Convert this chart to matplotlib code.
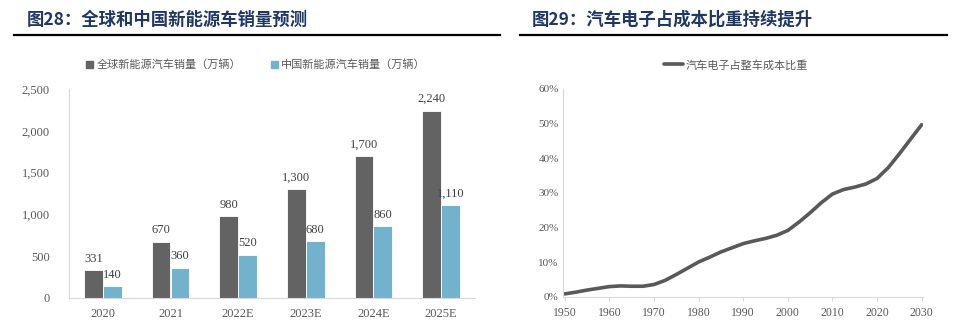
import matplotlib
matplotlib.use("Agg")
import matplotlib.pyplot as plt
from matplotlib.patches import Patch
from matplotlib.lines import Line2D
from matplotlib.ticker import FuncFormatter

CJK = ["Noto Sans CJK SC", "DejaVu Sans"]
SERIF = ["Liberation Serif", "DejaVu Serif"]

# left chart data
years = ["2020", "2021", "2022E", "2023E", "2024E", "2025E"]
global_sales = [331, 670, 980, 1300, 1700, 2240]
china_sales = [140, 360, 520, 680, 860, 1110]

# right chart data (every 2.5 years)
line_years = [1950, 1952.5, 1955, 1957.5, 1960, 1962.5, 1965, 1967.5, 1970,
              1972.5, 1975, 1977.5, 1980, 1982.5, 1985, 1987.5, 1990,
              1992.5, 1995, 1997.5, 2000, 2002.5, 2005, 2007.5, 2010,
              2012.5, 2015, 2017.5, 2020, 2022.5, 2025, 2027.5, 2030]
ecu_share = [0.9, 1.4, 2.0, 2.5, 3.0, 3.2, 3.1, 3.1, 3.6,
             4.8, 6.5, 8.3, 10.1, 11.5, 13.0, 14.2, 15.4,
             16.2, 16.9, 17.8, 19.2, 21.6, 24.3, 27.2, 29.7,
             31.0, 31.7, 32.6, 34.2, 37.3, 41.3, 45.5, 49.7]

title_color = "#1F3864"
tick_color = "#595959"
spine_color = "#D9D9D9"
dark = "#636363"
blue = "#72B2CC"

fig = plt.figure(figsize=(9.57, 3.33), dpi=100)

# titles + underline
fig.text(27 / 957, 1 - 19.5 / 333, "图28：全球和中国新能源车销量预测", family=CJK,
         fontsize=12.5, fontweight="bold", color=title_color, va="center")
fig.text(532 / 957, 1 - 19.5 / 333, "图29：汽车电子占成本比重持续提升", family=CJK,
         fontsize=12.5, fontweight="bold", color=title_color, va="center")
fig.add_artist(Line2D([14 / 957, 500 / 957], [0.895, 0.895], color="black", lw=1.6))
fig.add_artist(Line2D([520 / 957, 947 / 957], [0.895, 0.895], color="black", lw=1.6))

# ---- left: bar chart
ax = fig.add_axes([69 / 957, 35 / 333, 406 / 957, 209 / 333])
w = 0.28
x = list(range(len(years)))
b1 = ax.bar([i - w / 2 for i in x], global_sales, w, color=dark, edgecolor="white", lw=0.6)
b2 = ax.bar([i + w / 2 for i in x], china_sales, w, color=blue, edgecolor="white", lw=0.6)
for bars, vals in ((b1, global_sales), (b2, china_sales)):
    for r, v in zip(bars, vals):
        ax.annotate(f"{v:,}", (r.get_x() + r.get_width() / 2, v), xytext=(0, 4),
                    textcoords="offset points", ha="center", va="bottom",
                    family=SERIF, fontsize=9, color="#404040")
ax.set_xlim(-0.5, 5.5)
ax.set_ylim(0, 2500)
ax.set_yticks(range(0, 2501, 500))
ax.yaxis.set_major_formatter(FuncFormatter(lambda v, p: f"{int(v):,}"))
ax.set_xticks(x)
ax.set_xticklabels(years)
for s in ("top", "right"):
    ax.spines[s].set_visible(False)
for s in ("left", "bottom"):
    ax.spines[s].set_color(spine_color)
ax.tick_params(length=0, colors=tick_color, labelsize=9, pad=7)
ax.tick_params(axis="y", pad=14)
for t in ax.get_xticklabels() + ax.get_yticklabels():
    t.set_family(SERIF)

ax.legend([Patch(color=dark), Patch(color=blue)],
          ["全球新能源汽车销量（万辆）", "中国新能源汽车销量（万辆）"],
          loc="center", bbox_to_anchor=(256 / 957, 1 - 65 / 333),
          bbox_transform=fig.transFigure, ncol=2, frameon=False,
          prop={"family": CJK, "size": 8}, labelcolor=tick_color,
          handlelength=0.6, handleheight=0.6, handletextpad=0.3, columnspacing=2.7)

# ---- right: line chart
ax2 = fig.add_axes([563 / 957, 36 / 333, 360 / 957, 208 / 333])
ax2.plot(line_years, ecu_share, color="#595959", lw=2.6, solid_capstyle="round",
         solid_joinstyle="round", label="汽车电子占整车成本比重")
ax2.set_xlim(1949.6, 2030.3)
ax2.set_ylim(0, 60)
ax2.set_xticks(range(1950, 2031, 10))
ax2.set_yticks(range(0, 61, 10))
ax2.yaxis.set_major_formatter(FuncFormatter(lambda v, p: f"{int(v)}%"))
for s in ("top", "right"):
    ax2.spines[s].set_visible(False)
for s in ("left", "bottom"):
    ax2.spines[s].set_color(spine_color)
ax2.tick_params(axis="y", length=0, colors=tick_color, labelsize=8, pad=3)
ax2.tick_params(axis="x", length=3, color=spine_color, labelcolor=tick_color, labelsize=8.5, pad=4)
for t in ax2.get_xticklabels() + ax2.get_yticklabels():
    t.set_family(SERIF)
ax2.legend(loc="center", bbox_to_anchor=(736 / 957, 1 - 65 / 333),
           bbox_transform=fig.transFigure, frameon=False,
           prop={"family": CJK, "size": 8}, labelcolor=tick_color,
           handlelength=1.7, handletextpad=0.2)

fig.savefig("out.png", dpi=100)
